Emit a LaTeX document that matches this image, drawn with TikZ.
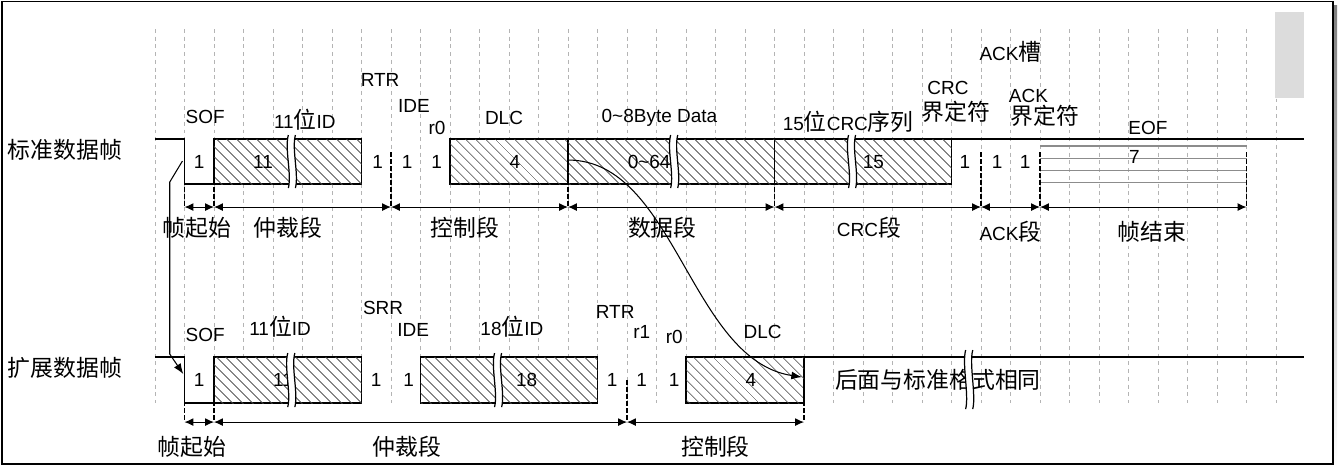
\documentclass[tikz,border=0pt]{standalone}
\usepackage{fontspec}
\setmainfont{Liberation Sans}
\newfontfamily\cjk{Noto Sans CJK SC}
\usepackage{tikz}
\usetikzlibrary{arrows.meta,patterns.meta}
\definecolor{gridc}{HTML}{B4B4B4}
\definecolor{hatch}{HTML}{464646}
\definecolor{eofc}{HTML}{8C8C8C}
\definecolor{panel}{HTML}{DCDCDC}
\definecolor{shade}{HTML}{8A8A8A}
\newcommand{\zh}[1]{{\cjk\fontsize{13pt}{15.6pt}\selectfont #1}}
\tikzset{
  fieldbox/.style={draw,line width=0.8pt,fill=white,postaction={pattern={Lines[angle=-45,distance=4pt,line width=0.45pt]},pattern color=hatch}},
  level/.style={line width=0.8pt},
  marker/.style={line width=0.9pt,dash pattern=on 2.6pt off 1.4pt},
  dimarrow/.style={line width=0.6pt,{Latex[length=5pt,width=4.5pt]}-{Latex[length=5pt,width=4.5pt]}},
  gridline/.style={gridc,line width=0.5pt,dash pattern=on 2.2pt off 2.2pt},
  link/.style={line width=0.6pt,-{Latex[length=6pt,width=4.5pt]}},
}

\begin{document}
\begin{tikzpicture}[x=0.59cm,y=-0.02cm,font=\fontsize{10.8pt}{13pt}\selectfont]
\def\fld#1#2#3#4{\draw[fieldbox] (#1,#3) rectangle (#2,#4);}
\def\brkmark#1#2#3{\fill[white] (#1-0.12,#2) .. controls (#1-0.25,#2+14) and (#1,#3-14) .. (#1-0.12,#3) -- (#1+0.12,#3) .. controls (#1+0.24,#3-14) and (#1-0.01,#2+14) .. (#1+0.12,#2) -- cycle;
  \draw[line width=0.7pt] (#1-0.12,#2) .. controls (#1-0.25,#2+14) and (#1,#3-14) .. (#1-0.12,#3);
  \draw[line width=0.7pt] (#1+0.12,#2) .. controls (#1-0.01,#2+14) and (#1+0.24,#3-14) .. (#1+0.12,#3);}
\useasboundingbox (-5.2542,0) rectangle (40.1017,469);
% frame and grid
\fill[shade] (-5.05,6) rectangle (40.07,468.5);
\draw[fill=white,line width=0.8pt] (-5.19,1.5) rectangle (39.93,464);
\foreach \i in {0,...,38} \draw[gridline] (\i,29) -- (\i,403);
\fill[panel] (37.97,12) rectangle (38.95,98);
% standard frame
\draw[level] (0,139) -- (1,139) -- (1,184) -- (2,184);
\fld{2}{7}{139}{184}
\fld{10}{14}{139}{184}
\fld{14}{21}{139}{184}
\fld{21}{27}{139}{184}
\draw[level] (27,139) -- (38.95,139);
\foreach \y in {146,158,170,182} \draw[eofc,line width=0.6pt] (30,\y) -- (37,\y);
% extended frame
\draw[level] (0,357) -- (1,357) -- (1,403) -- (2,403);
\fld{2}{7}{357}{403}
\fld{9}{15}{357}{403}
\fld{18}{22}{357}{403}
\draw[level] (22,357) -- (38.95,357);
% bit counts
\foreach \x/\y/\t [count=\k] in {1.5/162/1, 3.66/162/11, 7.55/162/1, 8.55/162/1, 9.55/162/1, 12.2/162/4, 16.75/162/{0\textasciitilde 64}, 24.35/162/15, 27.45/162/1, 28.55/162/1, 29.5/162/1, 33.2/157/7}
  \node (uv\k) at (\x,\y) {\t};
\foreach \x/\t [count=\k] in {1.5/1, 4.34/11, 7.5/1, 8.6/1, 12.6/18, 15.5/1, 16.5/1, 17.6/1, 20.2/4}
  \node (lv\k) at (\x,380) {\t};
\node (same) at (26.54,380) {\zh{后面与标准格式相同}};
\brkmark{4.64}{135}{188}
\brkmark{17.6}{135}{188}
\brkmark{23.63}{135}{188}
\brkmark{4.62}{353}{407}
\brkmark{11.63}{353}{407}
\brkmark{27.6}{350}{409}
% field names
\node (stdframe) at (-3.05,150) {\zh{标准数据帧}};
\node (extframe) at (-3.05,368) {\zh{扩展数据帧}};
\node (sofU) at (1.7,117) {SOF};
\node (idU) at (5.08,120) {11\zh{位}ID};
\node (rtrU) at (7.63,80) {RTR};
\node (ideU) at (8.78,106) {IDE};
\node (r0U) at (9.56,128) {r0};
\node (dlcU) at (11.83,118) {DLC};
\node (dataU) at (17.1,118) {0\textasciitilde 8Byte Data};
\node (crcU) at (23.5,122) {15\zh{位}CRC\zh{序列}};
\node (crcdU) at (26.88,88) {CRC};
\node (crcdU2) at (27.14,112) {\zh{界定符}};
\node (ackU) at (29.0,52) {ACK\zh{槽}};
\node (ackdU) at (29.61,96) {ACK};
\node (ackdU2) at (30.17,116) {\zh{界定符}};
\node (eofU) at (33.66,128) {EOF};
\node (sofL) at (1.7,335) {SOF};
\node (idL) at (4.24,327) {11\zh{位}ID};
\node (srrL) at (7.73,308) {SRR};
\node (ideL) at (8.75,330) {IDE};
\node (eidL) at (12.1,327) {18\zh{位}ID};
\node (rtrL) at (15.6,312) {RTR};
\node (r1L) at (16.5,332) {r1};
\node (r0L) at (17.6,337) {r0};
\node (dlcL) at (20.6,332) {DLC};
% segments
\foreach \m in {1,2,8,14,21,28,30,37} \draw[marker] (\m,152) -- (\m,207) coordinate (u\m);
\foreach \m in {1,2,16,22} \draw[marker] (\m,380) -- (\m,422) coordinate (l\m);
\foreach \a/\b in {1/2,2/8,8/14,14/21,21/28,28/30,30/37} \draw[dimarrow] (u\a) -- (u\b);
\foreach \a/\b in {1/2,2/16,16/22} \draw[dimarrow] (l\a) -- (l\b);
\foreach \x/\y/\t [count=\k] in {1.42/228/{\zh{帧起始}}, 4.5/228/{\zh{仲裁段}}, 10.5/228/{\zh{控制段}}, 17.2/228/{\zh{数据段}}, 24.2/228/{CRC\zh{段}}, 29.0/232/{ACK\zh{段}}, 33.8/232/{\zh{帧结束}}}
  \node (useg\k) at (\x,\y) {\t};
\foreach \x/\t [count=\k] in {1.25/{\zh{帧起始}}, 8.54/{\zh{仲裁段}}, 19.0/{\zh{控制段}}}
  \node (lseg\k) at (\x,447) {\t};
% links
\coordinate (sofS) at (0.93,161);
\coordinate (sofE) at (0.96,374);
\draw[link] (sofS) -- (0.5,182) -- (0.5,354) -- (sofE);
\coordinate (dataS) at (14,160);
\coordinate (dlcE) at (21.93,377);
\draw[link] (dataS) .. controls (17.63,160) and (18.14,360) .. (dlcE);
\end{tikzpicture}
\end{document}
